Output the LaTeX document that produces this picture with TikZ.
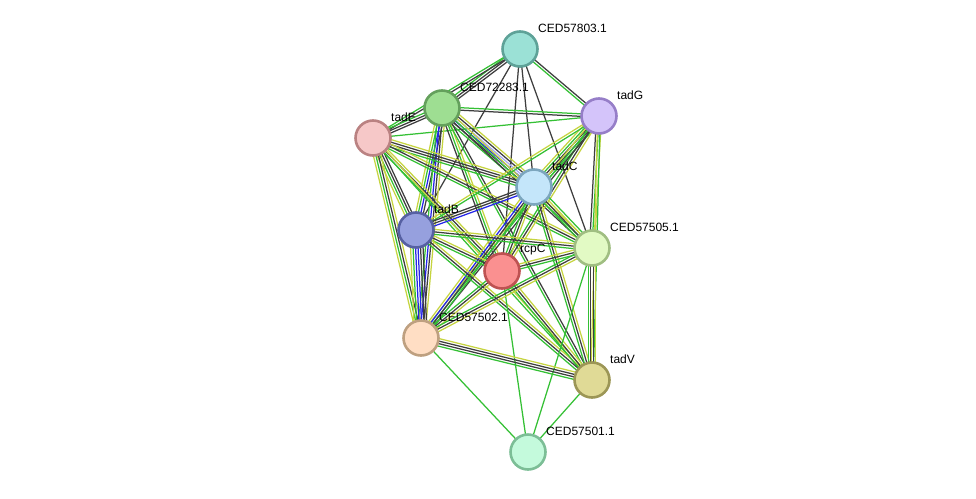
\documentclass[tikz,border=0pt]{standalone}
\usepackage{fontspec}
\setmainfont{Liberation Sans}
\usetikzlibrary{calc, backgrounds}
\definecolor{nbhgreen}{RGB}{52, 192, 52}
\definecolor{coexpgray}{RGB}{62, 62, 62}
\definecolor{txtyellow}{RGB}{198, 212, 64}
\definecolor{coocblue}{RGB}{36, 36, 232}
\definecolor{homlav}{RGB}{168, 168, 240}
\tikzset{
  evline/.style={line width=1.25pt},
  ev_g/.style={evline, nbhgreen},
  ev_k/.style={evline, coexpgray},
  ev_y/.style={evline, txtyellow},
  ev_b/.style={evline, coocblue},
  ev_h/.style={evline, homlav},
  pnode/.style={circle, line width=2.6pt, minimum size=35pt, inner sep=0pt},
  plabel/.style={anchor=west, inner sep=0pt, font=\fontsize{12}{14}\selectfont}
}
% one evidence line per colour, side by side
\newcommand{\evedge}[3]{%
  \foreach \c [count=\n] in {#3} {\xdef\nev{\n}}%
  \foreach \c [count=\i] in {#3} {%
    \pgfmathsetmacro{\off}{(\i-(\nev+1)/2)*2.5}%
    \draw[ev_\c] ($(#1.center)!\off pt!90:(#2.center)$) -- ($(#2.center)!\off pt!-90:(#1.center)$);
  }%
}
\begin{document}
\begin{tikzpicture}[x=1pt, y=-1pt]
    \useasboundingbox (0,0) rectangle (976,498);
    % Proteins
    \node (c57803) [pnode, fill={rgb,255:red,155;green,225;blue,214}, draw={rgb,255:red,94;green,162;blue,152}] at (520,49) {};
    \node (c72283) [pnode, fill={rgb,255:red,158;green,222;blue,146}, draw={rgb,255:red,100;green,160;blue,92}] at (442,108) {};
    \node (tadG) [pnode, fill={rgb,255:red,212;green,196;blue,250}, draw={rgb,255:red,150;green,126;blue,200}] at (599,116) {};
    \node (tadE) [pnode, fill={rgb,255:red,246;green,200;blue,200}, draw={rgb,255:red,186;green,130;blue,130}] at (373,138) {};
    \node (tadC) [pnode, fill={rgb,255:red,196;green,230;blue,250}, draw={rgb,255:red,124;green,166;blue,190}] at (534,187) {};
    \node (tadB) [pnode, fill={rgb,255:red,150;green,160;blue,222}, draw={rgb,255:red,86;green,96;blue,162}] at (416,230) {};
    \node (c57505) [pnode, fill={rgb,255:red,226;green,250;blue,196}, draw={rgb,255:red,160;green,190;blue,130}] at (592,248) {};
    \node (rcpC) [pnode, fill={rgb,255:red,250;green,144;blue,144}, draw={rgb,255:red,190;green,82;blue,82}] at (502,271) {};
    \node (c57502) [pnode, fill={rgb,255:red,255;green,222;blue,196}, draw={rgb,255:red,190;green,160;blue,128}] at (421,338) {};
    \node (tadV) [pnode, fill={rgb,255:red,224;green,218;blue,150}, draw={rgb,255:red,156;green,150;blue,86}] at (592,380) {};
    \node (c57501) [pnode, fill={rgb,255:red,196;green,250;blue,220}, draw={rgb,255:red,124;green,190;blue,150}] at (528,452) {};
    % Labels
    \node (l57803) [plabel] at ($(c57803.center)+(18,-21)$) {CED57803.1};
    \node (l72283) [plabel] at ($(c72283.center)+(18,-21)$) {CED72283.1};
    \node (lG) [plabel] at ($(tadG.center)+(18,-21)$) {tadG};
    \node (lE) [plabel] at ($(tadE.center)+(18,-21)$) {tadE};
    \node (lC) [plabel] at ($(tadC.center)+(18,-21)$) {tadC};
    \node (lB) [plabel] at ($(tadB.center)+(18,-21)$) {tadB};
    \node (l57505) [plabel] at ($(c57505.center)+(18,-21)$) {CED57505.1};
    \node (lrcpC) [plabel] at ($(rcpC.center)+(18,-21)$) {rcpC};
    \node (l57502) [plabel] at ($(c57502.center)+(18,-21)$) {CED57502.1};
    \node (lV) [plabel] at ($(tadV.center)+(18,-21)$) {tadV};
    \node (l57501) [plabel] at ($(c57501.center)+(18,-21)$) {CED57501.1};
    % Interactions
    \begin{pgfonlayer}{background}
    \evedge{c57803}{c72283}{g,k,k}
    \evedge{c57803}{tadE}{g,k}
    \evedge{c57803}{tadG}{g,k}
    \evedge{c57803}{tadB}{k}
    \evedge{c57803}{rcpC}{k}
    \evedge{c57803}{tadC}{k}
    \evedge{c57803}{c57505}{k}
    \evedge{c72283}{tadE}{g,k,k}
    \evedge{c72283}{tadG}{k,g}
    \evedge{tadE}{tadG}{g}
    \evedge{c72283}{tadC}{g,k,b,h,k,y}
    \evedge{c72283}{tadB}{y,g,b,k}
    \evedge{c72283}{c57502}{g,b,k,y}
    \evedge{c72283}{rcpC}{k,g,y}
    \evedge{c72283}{c57505}{k,g,y}
    \evedge{c72283}{tadV}{g,k}
    \evedge{tadE}{tadC}{g,k,k,y}
    \evedge{tadE}{tadB}{y,g,k,k}
    \evedge{tadE}{c57502}{y,g,k,y}
    \evedge{tadE}{rcpC}{g,k,y}
    \evedge{tadE}{c57505}{g,k,y}
    \evedge{tadE}{tadV}{g,y}
    \evedge{tadG}{tadC}{y,g,k,k,g}
    \evedge{tadG}{tadB}{y,g}
    \evedge{tadG}{rcpC}{g,k,y}
    \evedge{tadG}{c57505}{k,g,y}
    \evedge{tadG}{tadV}{y,g}
    \evedge{tadG}{c57502}{y,g,k}
    \evedge{tadC}{tadB}{k,k,b}
    \evedge{tadC}{rcpC}{g,k,y}
    \evedge{tadC}{c57505}{g,k,y,g}
    \evedge{tadC}{c57502}{y,b,k,g}
    \evedge{tadC}{tadV}{g,k,y}
    \evedge{tadB}{rcpC}{g,k,y}
    \evedge{tadB}{c57505}{g,k,y}
    \evedge{tadB}{c57502}{y,g,b,b,k,k}
    \evedge{tadB}{tadV}{g,k,y}
    \evedge{rcpC}{c57505}{g,k,y}
    \evedge{rcpC}{c57502}{g,k,y}
    \evedge{rcpC}{tadV}{g,k,y}
    \evedge{rcpC}{c57501}{g}
    \evedge{c57505}{c57502}{g,k,y}
    \evedge{c57505}{tadV}{g,k,k,y}
    \evedge{c57505}{c57501}{g}
    \evedge{c57502}{tadV}{g,k,k,y}
    \evedge{c57502}{c57501}{g}
    \evedge{tadV}{c57501}{g}
    \end{pgfonlayer}
\end{tikzpicture}
\end{document}
